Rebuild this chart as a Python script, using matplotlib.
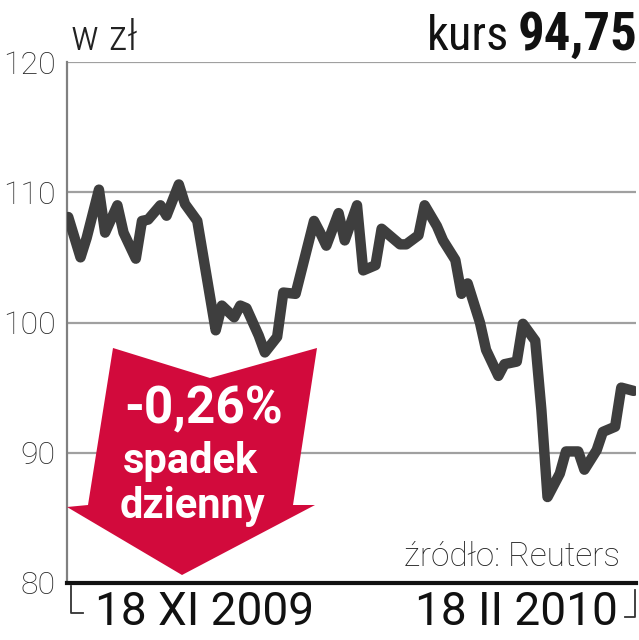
import matplotlib
matplotlib.use("Agg")
import matplotlib.pyplot as plt
from matplotlib.patches import Polygon
from matplotlib.lines import Line2D

# days since 18 XI 2009 and closing price (zł)
days = [0, 2, 3, 5, 6, 8, 9, 11, 12, 13, 15, 16, 18, 19, 21, 24, 25, 27, 28,
        29, 31, 32, 34, 35, 37, 40, 41, 42, 44, 45, 47, 48, 50, 51, 54, 55,
        57, 58, 60, 61, 63, 64, 65, 67, 68, 70, 71, 73, 74, 76, 77, 78, 80,
        81, 83, 84, 86, 87, 89, 90, 92]
price = [108.1, 105.0, 106.5, 110.2, 106.9, 109.0, 106.9, 104.9, 107.8, 107.9,
         109.0, 108.2, 110.6, 109.1, 107.8, 99.4, 101.3, 100.4, 101.3, 101.1,
         99.0, 97.7, 98.9, 102.3, 102.2, 107.8, 106.9, 105.9, 108.4, 106.3,
         109.0, 104.0, 104.4, 107.2, 106.0, 106.0, 106.7, 109.0, 107.4, 106.3,
         104.8, 102.2, 103.0, 100.0, 97.9, 95.9, 96.8, 97.0, 99.9, 98.6, 93.3,
         86.6, 88.4, 90.1, 90.1, 88.7, 90.2, 91.6, 92.0, 95.0, 94.75]

yticks = [80, 90, 100, 110, 120]
date_labels = ["18 XI 2009", "18 II 2010"]

COND = ["Roboto Condensed", "Barlow Condensed", "Liberation Sans Narrow",
        "Roboto", "DejaVu Sans"]
SANS = ["Roboto", "DejaVu Sans"]
RED = "#d20a3c"

fig = plt.figure(figsize=(6.39, 6.40), dpi=100)
W, H = 639, 640
ax = fig.add_axes([67 / W, 1 - 583 / H, (636 - 67) / W, (583 - 62) / H])

ax.plot(days, price, color="#3e3e3e", lw=7.5, solid_joinstyle="round",
        solid_capstyle="round", zorder=3)
ax.set_xlim(-0.2, 92.4)
ax.set_ylim(80, 120)
ax.set_yticks(yticks)
ax.set_yticklabels([str(t) for t in yticks], family=SANS, fontsize=23,
                   fontweight="light", color="#2a2a2a")
ax.set_xticks([])
ax.tick_params(axis="y", length=0, pad=8)
ax.grid(axis="y", color="#a0a0a0", lw=1.6, zorder=1)
for s in ["right", "top"]:
    ax.spines[s].set_visible(False)
ax.spines["left"].set_color("#808080")
ax.spines["left"].set_linewidth(1.6)
ax.spines["bottom"].set_color("#111111")
ax.spines["bottom"].set_linewidth(3)
ax.spines["bottom"].set_zorder(4)


def px(x, y):
    return (x / W, 1 - y / H)


# red arrow
arrow = [px(113, 348), px(210, 378), px(317, 348), px(293, 505), px(315, 505),
         px(182, 575), px(67, 507), px(88, 505)]
fig.patches.append(Polygon(arrow, closed=True, transform=fig.transFigure,
                           facecolor=RED, edgecolor="none", zorder=5))
fig.text(*px(204, 423), "-0,26%", ha="center", va="baseline", color="white",
         fontsize=37, fontweight="bold", family=SANS, zorder=6)
fig.text(*px(190, 473), "spadek", ha="center", va="baseline", color="white",
         fontsize=30, fontweight="bold", family=SANS, zorder=6)
fig.text(*px(192, 518), "dzienny", ha="center", va="baseline", color="white",
         fontsize=30, fontweight="bold", family=SANS, zorder=6)

# header
fig.text(*px(71, 50), "w zł", ha="left", va="baseline", fontsize=31,
         fontweight="light", family=COND, color="#222222")
fig.text(*px(509, 50), "kurs", ha="right", va="baseline", fontsize=35,
         family=COND, color="#111111")
fig.text(*px(637, 50), "94,75", ha="right", va="baseline", fontsize=38,
         fontweight="bold", family=COND, color="#111111")

fig.text(*px(620, 566), "źródło: Reuters", ha="right", va="baseline",
         fontsize=24, fontweight="light", family=SANS, color="#222222")

# date labels with brackets
fig.text(*px(95, 625), date_labels[0], ha="left", va="baseline", fontsize=33,
         family=SANS, color="#111111")
fig.text(*px(618, 625), date_labels[1], ha="right", va="baseline", fontsize=33,
         family=SANS, color="#111111")
for xs, ys in [([71, 71, 83], [586, 613, 613]), ([625, 635, 635], [617, 617, 590])]:
    fig.lines.append(Line2D([x / W for x in xs], [1 - y / H for y in ys],
                            transform=fig.transFigure, color="#333333", lw=1.3))

fig.savefig("out.png", dpi=100)
